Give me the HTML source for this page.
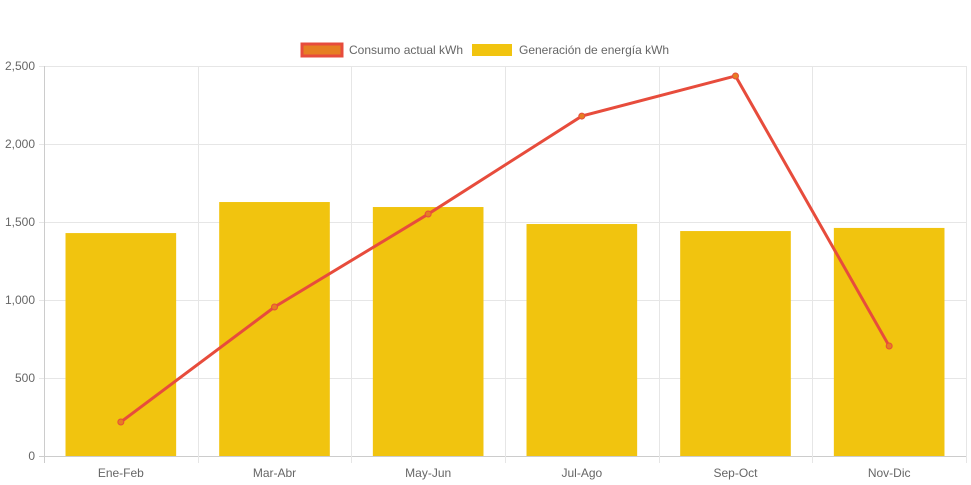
<!DOCTYPE html>
<html><head><meta charset="utf-8"><style>
body{margin:0;background:#fff;font-family:"Liberation Sans",sans-serif;}
svg{display:block}
</style></head><body>
<svg id="c" width="971" height="485"></svg>
<script>
const categories=["Ene-Feb","Mar-Abr","May-Jun","Jul-Ago","Sep-Oct","Nov-Dic"];
const generation=[1429,1628,1596,1487,1442,1462];
const consumption=[218,955,1551,2179,2436,705];
const yTicks=[0,500,1000,1500,2000,2500];
const yTickLabels=["0","500","1,000","1,500","2,000","2,500"];
const L=44,R=966,T=66,B=456,yMax=2500;
const ns="http://www.w3.org/2000/svg";
const svg=document.getElementById('c');
const bw=(R-L)/categories.length;
const x=i=>L+bw*(i+0.5);
const y=v=>B-(v/yMax)*(B-T);
function mk(t,a,p){const e=document.createElementNS(ns,t);for(const k in a)e.setAttribute(k,a[k]);(p||svg).appendChild(e);return e;}
yTicks.forEach((v,i)=>{
 const g=mk('line',{x1:L-5,x2:R,y1:y(v)+0.5,y2:y(v)+0.5,stroke:i===0?'#ccc':'#e6e6e6'});
 
 
 const t=mk('text',{x:L-9,y:y(v)+4,'text-anchor':'end','font-size':12,fill:'#666'});
 t.textContent=yTickLabels[i];
 
 
});
for(let i=0;i<=categories.length;i++){
 const xx=Math.round(L+bw*i)+0.5;
 const g=mk('line',{x1:xx,x2:xx,y1:T,y2:B+7,stroke:i===0?'#ccc':'#e6e6e6'});
 
 
}
categories.forEach((c,i)=>{
 const w=bw*0.72;
 const r=mk('rect',{x:x(i)-w/2,y:y(generation[i]),width:w,height:B-y(generation[i]),fill:'#f1c40f'});
 
 
 const t=mk('text',{x:x(i),y:B+21,'text-anchor':'middle','font-size':12,fill:'#666'});
 t.textContent=c;
 
 
});
const pl=mk('polyline',{points:consumption.map((v,i)=>x(i)+','+y(v)).join(' '),fill:'none',stroke:'#e74c3c','stroke-width':3});


consumption.forEach((v,i)=>{
 const p=mk('circle',{cx:x(i),cy:y(v),r:3,fill:'#e67e22',stroke:'#e74c3c','stroke-width':1});
 
 
});
const l1=mk('rect',{x:302,y:44,width:40,height:12,fill:'#e67e22',stroke:'#e74c3c','stroke-width':3});


const t1=mk('text',{x:349,y:54,'font-size':12,fill:'#666'});t1.textContent='Consumo actual kWh';


const l2=mk('rect',{x:472,y:44,width:40,height:12,fill:'#f1c40f'});


const t2=mk('text',{x:519,y:54,'font-size':12,fill:'#666'});t2.textContent='Generación de energía kWh';


</script>
</body></html>
